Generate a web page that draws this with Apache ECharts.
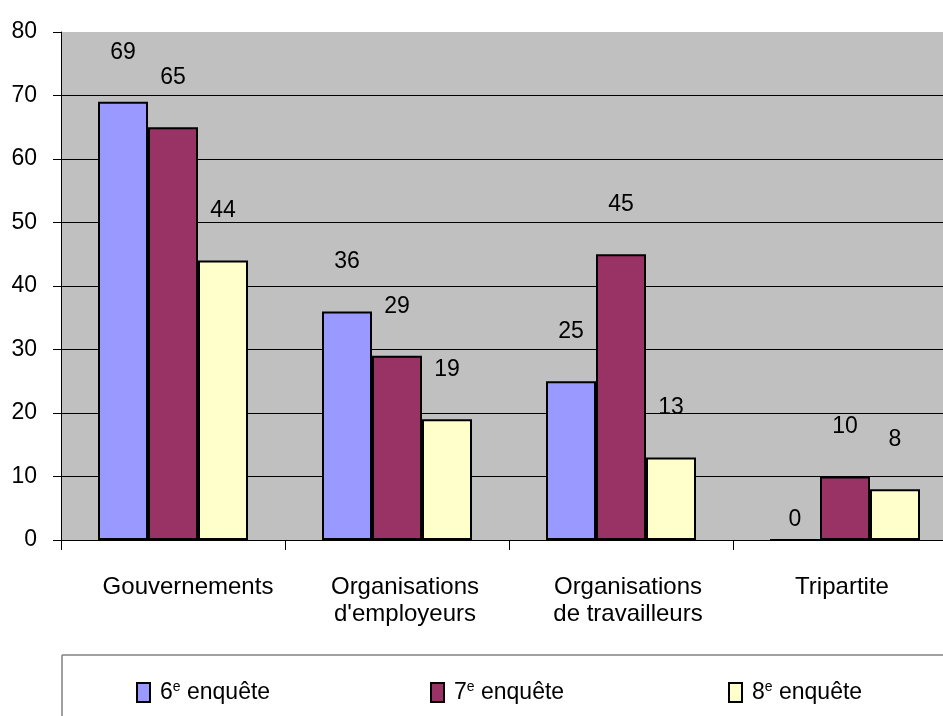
<!DOCTYPE html>
<html>
<head>
<meta charset="utf-8">
<script src="https://cdn.jsdelivr.net/npm/echarts@6/dist/echarts.min.js"></script>
<style>
html,body{margin:0;padding:0;background:#fff;overflow:hidden;}
#c{width:957px;height:716px;}
</style>
</head>
<body>
<div id="c"></div>
<script>
const categories = ['Gouvernements', "Organisations\nd'employeurs", 'Organisations\nde travailleurs', 'Tripartite'];
const seriesNames = ['6e enquête', '7e enquête', '8e enquête'];
const s6 = [69, 36, 25, 0];
const s7 = [65, 29, 45, 10];
const s8 = [44, 19, 13, 8];
const yTicks = [0, 10, 20, 30, 40, 50, 60, 70, 80];
const colors = ['#9999FF', '#993366', '#FFFFCC'];
// horizontal shift of each category label (px), as placed in the original
const labelShift = [15, 8, 7, -3];

const FONT = '"Liberation Sans", Arial, sans-serif';
const chart = echarts.init(document.getElementById('c'));

function mkData(arr) {
  return arr.map(v => v === 0 ? { value: v, label: { distance: 8 } } : v);
}
function mkSeries(name, arr, color) {
  return {
    name: name, type: 'bar', data: mkData(arr),
    barWidth: 50, barGap: '0%',
    itemStyle: { color: color, borderColor: '#000', borderWidth: 2 },
    label: { show: true, position: 'top', distance: 38, color: '#000', fontFamily: FONT, fontSize: 23 },
    emphasis: { disabled: true }
  };
}
function legendFmt(name) {
  const idx = name.indexOf('e ');
  return '{n|' + name.slice(0, idx) + '}{s|e}{t|' + name.slice(idx + 1) + '}';
}
const legendRich = {
  n: { fontFamily: FONT, fontSize: 23, color: '#000', padding: [0, 0, 0, 5] },
  s: { fontFamily: FONT, fontSize: 14, color: '#000', padding: [0, 0, 11, 0] },
  t: { fontFamily: FONT, fontSize: 23, color: '#000' }
};
const legendLefts = [136, 430, 728];

const catData = categories.map((c, i) => {
  const s = labelShift[i];
  return { value: c, textStyle: { padding: s >= 0 ? [0, 0, 0, 2 * s] : [0, -2 * s, 0, 0] } };
});

chart.setOption({
  animation: false,
  backgroundColor: '#fff',
  grid: { left: 61, right: 0, top: 32, bottom: 176, show: true, backgroundColor: '#C0C0C0', borderWidth: 0 },
  legend: seriesNames.map((n, i) => ({
    data: [n], left: legendLefts[i], top: 680, padding: 0,
    itemWidth: 13, itemHeight: 19, icon: 'rect',
    itemStyle: { borderColor: '#000', borderWidth: 2 },
    formatter: legendFmt,
    textStyle: { rich: legendRich },
    selectedMode: false
  })),
  xAxis: {
    type: 'category', data: catData,
    axisLine: { show: true, lineStyle: { color: '#000', width: 1 } },
    axisTick: { show: true, length: 10, lineStyle: { color: '#000' } },
    axisLabel: { color: '#000', fontFamily: FONT, fontSize: 24, lineHeight: 27, margin: 34, interval: 0 },
    splitLine: { show: false }
  },
  yAxis: {
    type: 'value', min: 0, max: 80, interval: 10,
    axisLine: { show: true, lineStyle: { color: '#000', width: 1 } },
    axisTick: { show: true, length: 8, lineStyle: { color: '#000' } },
    axisLabel: { color: '#000', fontFamily: FONT, fontSize: 23, margin: 24,
      formatter: v => yTicks.includes(v) ? String(v) : '' },
    splitLine: { show: true, showMaxLine: false, lineStyle: { color: '#000', width: 1 } }
  },
  graphic: [
    { type: 'line', shape: { x1: 62, y1: 655, x2: 957, y2: 655 }, style: { stroke: '#808080', lineWidth: 1.5 } },
    { type: 'line', shape: { x1: 62, y1: 655, x2: 62, y2: 716 }, style: { stroke: '#808080', lineWidth: 1.5 } }
  ],
  series: [
    mkSeries(seriesNames[0], s6, colors[0]),
    mkSeries(seriesNames[1], s7, colors[1]),
    mkSeries(seriesNames[2], s8, colors[2])
  ]
});
</script>
</body>
</html>
